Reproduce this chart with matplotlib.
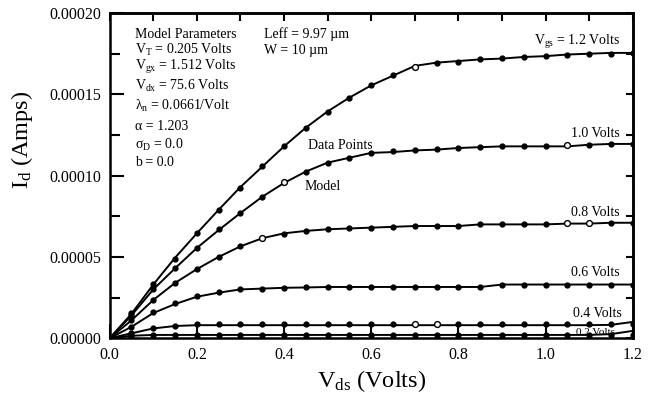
import numpy as np
import matplotlib
matplotlib.use("Agg")
import matplotlib.pyplot as plt
from matplotlib.ticker import MultipleLocator, FormatStrFormatter

plt.rcParams['font.family'] = ['Liberation Serif', 'DejaVu Serif']
plt.rcParams['mathtext.fontset'] = 'custom'
plt.rcParams['mathtext.rm'] = 'Liberation Serif'
plt.rcParams['mathtext.it'] = 'Liberation Serif:italic'

# Drain voltage grid (Volts)
vds = [0.0, 0.05, 0.10, 0.15, 0.20, 0.25, 0.30, 0.35, 0.40, 0.45, 0.50, 0.55, 0.60,
       0.65, 0.70, 0.75, 0.80, 0.85, 0.90, 0.95, 1.00, 1.05, 1.10, 1.15, 1.20]

# Measured drain current (units of 1e-5 A) for each gate voltage
data_12 = [0, 1.54, 3.33, 4.90, 6.50, 7.90, 9.26, 10.6, 11.85, 12.96, 13.9, 14.8, 15.55,
           16.2, 16.7, 16.9, 17.0, 17.15, 17.25, 17.3, 17.35, 17.4, 17.5, 17.5, 17.55]
data_10 = [0, 1.40, 3.00, 4.30, 5.55, 6.70, 7.70, 8.70, 9.60, 10.2, 10.8, 11.1, 11.4,
           11.5, 11.55, 11.65, 11.7, 11.75, 11.8, 11.8, 11.85, 11.9, 11.9, 11.95, 11.95]
data_08 = [0, 1.10, 2.35, 3.40, 4.25, 5.00, 5.70, 6.15, 6.40, 6.60, 6.70, 6.80, 6.80,
           6.85, 6.90, 6.90, 6.90, 7.00, 7.00, 7.05, 7.05, 7.10, 7.10, 7.10, 7.10]
data_06 = [0, 0.70, 1.60, 2.15, 2.60, 2.85, 3.00, 3.05, 3.10, 3.12, 3.15, 3.15, 3.15,
           3.15, 3.15, 3.15, 3.15, 3.15, 3.30, 3.30, 3.30, 3.30, 3.30, 3.30, 3.30]
data_04 = [0, 0.30, 0.60, 0.74, 0.86, 0.86, 0.86, 0.86, 0.86, 0.86, 0.86, 0.86, 0.86,
           0.86, 0.86, 0.86, 0.86, 0.86, 0.86, 0.86, 0.86, 0.88, 0.88, 0.88, 0.88]
data_02 = [0, 0.15, 0.20, 0.20, 0.20, 0.20, 0.20, 0.20, 0.20, 0.20, 0.20, 0.20, 0.20,
           0.20, 0.20, 0.20, 0.20, 0.20, 0.20, 0.20, 0.20, 0.20, 0.20, 0.20, 0.20]

# Model curves (units of 1e-5 A)
model_12 = [0, 1.50, 3.30, 4.95, 6.45, 7.90, 9.30, 10.55, 11.8, 12.95, 13.95, 14.8, 15.55,
            16.15, 16.75, 16.95, 17.05, 17.15, 17.2, 17.3, 17.35, 17.45, 17.5, 17.55, 17.55]
model_10 = [0, 1.40, 3.00, 4.30, 5.55, 6.65, 7.70, 8.70, 9.55, 10.25, 10.8, 11.1, 11.4,
            11.45, 11.55, 11.6, 11.7, 11.75, 11.8, 11.8, 11.8, 11.8, 11.9, 11.95, 11.95]
model_08 = [0, 1.10, 2.35, 3.40, 4.25, 5.00, 5.65, 6.15, 6.45, 6.60, 6.70, 6.75, 6.80,
            6.85, 6.90, 6.90, 6.90, 7.00, 7.00, 7.00, 7.00, 7.05, 7.05, 7.10, 7.10]
model_06 = [0, 0.70, 1.55, 2.10, 2.55, 2.80, 3.00, 3.05, 3.10, 3.12, 3.15, 3.15, 3.15,
            3.15, 3.15, 3.15, 3.15, 3.15, 3.30, 3.30, 3.30, 3.30, 3.30, 3.30, 3.30]
model_04 = [0, 0.30, 0.60, 0.75, 0.80, 0.80, 0.80, 0.80, 0.80, 0.80, 0.80, 0.80, 0.80,
            0.80, 0.80, 0.80, 0.80, 0.80, 0.80, 0.80, 0.80, 0.80, 0.80, 0.82, 1.00]
model_02 = [0, 0.15, 0.20, 0.20, 0.20, 0.20, 0.20, 0.20, 0.20, 0.20, 0.20, 0.20, 0.20,
            0.20, 0.20, 0.20, 0.20, 0.20, 0.20, 0.20, 0.20, 0.20, 0.20, 0.25, 0.45]

# indices of the points drawn as open circles
open_12 = [14]
open_10 = [8, 21]
open_08 = [7, 21, 22]
open_06 = []
open_04 = [14, 15]
open_02 = []

curves = [(data_12, model_12, open_12), (data_10, model_10, open_10),
          (data_08, model_08, open_08), (data_06, model_06, open_06),
          (data_04, model_04, open_04), (data_02, model_02, open_02)]

params = ["Model Parameters",
          r"V$_{\mathrm{T}}$ = 0.205 Volts",
          r"V$_{\mathrm{gx}}$ = 1.512 Volts",
          r"V$_{\mathrm{dx}}$ = 75.6 Volts",
          r"λ$_{\mathrm{n}}$ = 0.0661/Volt",
          "α = 1.203",
          r"σ$_{\mathrm{D}}$ = 0.0",
          "b = 0.0"]
param_y = [1.87e-4, 1.771e-4, 1.666e-4, 1.549e-4, 1.427e-4, 1.302e-4, 1.191e-4, 1.08e-4]

fig = plt.figure(figsize=(6.53, 3.96), dpi=100)
ax = fig.add_axes([0.168, 0.146, 0.801, 0.821])

x = np.array(vds)
for dat, mod, opn in curves:
    d = np.array(dat) * 1e-5
    m = np.array(mod) * 1e-5
    ax.plot(x, m, color='black', lw=1.4, zorder=2)
    filled = [i for i in range(len(x)) if i not in opn]
    ax.plot(x[filled], d[filled], 'o', color='black', ms=3.5, zorder=3)
    if opn:
        ax.plot(x[opn], d[opn], 'o', mfc='white', mec='black', mew=1.0, ms=4.2, zorder=4)

ax.set_xlim(0, 1.2)
ax.set_ylim(0, 0.0002)

ax.xaxis.set_major_locator(MultipleLocator(0.2))
ax.xaxis.set_major_formatter(FormatStrFormatter('%.1f'))
ax.yaxis.set_major_locator(MultipleLocator(0.00005))
ax.yaxis.set_minor_locator(MultipleLocator(0.000025))
ax.yaxis.set_major_formatter(FormatStrFormatter('%.5f'))
ax.tick_params(axis='x', which='major', direction='in', length=10, width=1.5,
               labelsize=11.5, pad=6, top=False)
ax.tick_params(axis='y', which='major', direction='in', length=10, width=1.5,
               labelsize=11.5, pad=6, right=False)
ax.tick_params(axis='y', which='minor', direction='in', length=7, width=1.5, right=False)
for s in ax.spines.values():
    s.set_linewidth(1.8)

top = ax.secondary_xaxis('top')
top.set_xticks(np.arange(0, 1.21, 0.1))
top.tick_params(direction='in', length=6, width=1.5, labeltop=False)
top.spines['top'].set_linewidth(1.8)

right = ax.secondary_yaxis('right')
right.set_yticks(np.arange(0, 0.000201, 0.000025))
right.tick_params(direction='in', length=5, width=1.5, labelright=False)
right.spines['right'].set_linewidth(1.8)

ax.set_xlabel(r"V$_{\mathrm{ds}}$ (Volts)", fontsize=17.5, labelpad=4)
ax.set_ylabel(r"I$_{\mathrm{d}}$ (Amps)", fontsize=17.5)
ax.yaxis.set_label_coords(-0.142, 0.61)

for txt, yy in zip(params, param_y):
    ax.text(0.058, yy, txt, fontsize=10, va='center', ha='left')
ax.text(0.355, 1.87e-4, "Leff = 9.97 µm", fontsize=10, va='center')
ax.text(0.355, 1.771e-4, "W = 10 µm", fontsize=10, va='center')

ax.text(1.171, 1.82e-4, r"V$_{\mathrm{gs}}$ = 1.2 Volts", fontsize=10, va='center', ha='right')
ax.text(1.171, 1.259e-4, "1.0 Volts", fontsize=10, va='center', ha='right')
ax.text(0.454, 1.185e-4, "Data Points", fontsize=10, va='center', ha='left')
ax.text(0.447, 9.32e-5, "Model", fontsize=10, va='center', ha='left')
ax.text(1.171, 7.71e-5, "0.8 Volts", fontsize=10, va='center', ha='right')
ax.text(1.171, 4.07e-5, "0.6 Volts", fontsize=10, va='center', ha='right')
ax.text(1.175, 1.54e-5, "0.4 Volts", fontsize=10, va='center', ha='right')
ax.text(1.160, 3.7e-6, "0.2 Volts", fontsize=8, va='center', ha='right')

fig.savefig("out.png", dpi=100)
